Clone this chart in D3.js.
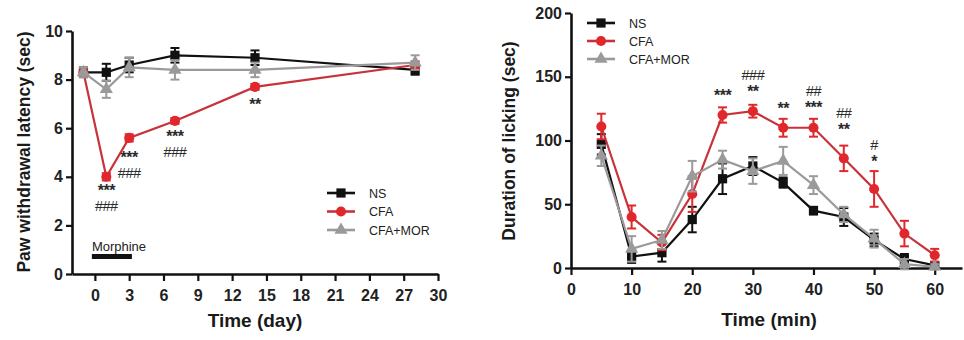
<!DOCTYPE html>
<html><head><meta charset="utf-8">
<script src="https://cdn.jsdelivr.net/npm/d3@7"></script>
<style>
html,body{margin:0;padding:0;background:#fff;}
svg text{font-family:"Liberation Sans",Arial,sans-serif;}
</style></head>
<body><svg id="c" width="964" height="340"></svg>
<script>
// ---------- Left panel data (days) ----------
const daysL = [-1, 1, 3, 7, 14, 28];
const nsL   = [8.3, 8.3, 8.6, 9.0, 8.9, 8.4];
const nsLe  = [0.2, 0.35, 0.3, 0.3, 0.3, 0.2];
const cfaL  = [8.3, 4.0, 5.6, 6.3, 7.7, 8.6];
const cfaLe = [0.15, 0.15, 0.15, 0.12, 0.12, 0.15];
const morL  = [8.3, 7.6, 8.5, 8.4, 8.4, 8.7];
const morLe = [0.2, 0.35, 0.4, 0.4, 0.3, 0.3];
const xTicksL = [0, 3, 6, 9, 12, 15, 18, 21, 24, 27, 30];
const yTicksL = [0, 2, 4, 6, 8, 10];
const annL = [
  {x: 1, lines: ["***", "###"]},
  {x: 3, lines: ["***", "###"]},
  {x: 7, lines: ["***", "###"]},
  {x: 14, lines: ["**"]}
];

// ---------- Right panel data (min) ----------
const minsR = [5, 10, 15, 20, 25, 30, 35, 40, 45, 50, 55, 60];
const nsR   = [97, 9, 12, 38, 70, 80, 67, 45, 40, 22, 7, 2];
const nsRe  = [8, 5, 7, 10, 12, 7, 4, 3, 7, 5, 4, 2];
const cfaR  = [111, 40, 20, 58, 120, 123, 110, 110, 86, 62, 27, 10];
const cfaRe = [10, 9, 6, 14, 6, 5, 7, 7, 10, 14, 10, 5];
const morR  = [88, 15, 22, 72, 85, 76, 84, 65, 42, 23, 3, 1];
const morRe = [8, 10, 7, 12, 7, 10, 11, 7, 6, 7, 4, 2];
const xTicksR = [0, 10, 20, 30, 40, 50, 60];
const yTicksR = [0, 50, 100, 150, 200];
const annR = [
  {x: 25, lines: ["***"]},
  {x: 30, lines: ["###", "**"]},
  {x: 35, lines: ["**"]},
  {x: 40, lines: ["##", "***"]},
  {x: 45, lines: ["##", "**"]},
  {x: 50, lines: ["#", "*"]}
];

const seriesNames = ["NS", "CFA", "CFA+MOR"];
const colors = {NS: "#111111", CFA: "#e0282c", "CFA+MOR": "#9a9a9a"};
const lineColors = {NS: "#111111", CFA: "#c8323a", "CFA+MOR": "#9a9a9a"};
const shapes = {NS: d3.symbolSquare, CFA: d3.symbolCircle, "CFA+MOR": d3.symbolTriangle};
const shapeSize = {NS: 85, CFA: 80, "CFA+MOR": 75};

const svg = d3.select("#c");

function panel(cfg) {
  const g = svg.append("g");
  const x = d3.scaleLinear().domain(cfg.xDomain).range(cfg.xRange);
  const y = d3.scaleLinear().domain(cfg.yDomain).range(cfg.yRange);

  // axes
  const xa = g.append("g").attr("transform", `translate(0,${cfg.yRange[0]})`)
    .call(d3.axisBottom(x).tickValues(cfg.xTicks).tickSize(7).tickSizeOuter(0).tickPadding(5));
  const ya = g.append("g").attr("transform", `translate(${cfg.xRange[0]},0)`)
    .call(d3.axisLeft(y).tickValues(cfg.yTicks).tickSize(6).tickSizeOuter(0).tickPadding(3));
  [xa, ya].forEach(a => {
    a.select(".domain").attr("stroke", "#111").attr("stroke-width", 2.6);
    a.selectAll(".tick line").attr("stroke", "#111").attr("stroke-width", 2.2);
    a.selectAll(".tick text").attr("fill", "#222").attr("font-size", 16).attr("font-weight", "bold")
      .style("font-family", "'Liberation Sans',Arial,sans-serif");
  });
  xa.selectAll(".tick text").attr("dy", "0.95em");

  // axis titles
  g.append("text").attr("x", cfg.xTitlePos[0]).attr("y", cfg.xTitlePos[1])
    .attr("text-anchor", "middle").attr("font-size", 19).attr("font-weight", "bold").attr("fill", "#1a1a1a")
    .text(cfg.xTitle);
  g.append("text").attr("transform", `translate(${cfg.yTitlePos[0]},${cfg.yTitlePos[1]}) rotate(-90)`)
    .attr("text-anchor", "middle").attr("font-size", 17.5).attr("font-weight", "bold").attr("fill", "#1a1a1a")
    .text(cfg.yTitle);

  // series
  const data = {NS: [cfg.ns, cfg.nsE], CFA: [cfg.cfa, cfg.cfaE], "CFA+MOR": [cfg.mor, cfg.morE]};
  const line = d3.line().x(d => x(d.x)).y(d => y(d.v));
  seriesNames.forEach(name => {
    const pts = cfg.xs.map((xv, i) => ({x: xv, v: data[name][0][i], e: data[name][1][i]}));
    const sg = g.append("g");
    sg.append("path").datum(pts).attr("d", line).attr("fill", "none")
      .attr("stroke", lineColors[name]).attr("stroke-width", 2.2);
    const eb = sg.selectAll(".eb").data(pts).join("g");
    eb.append("line").attr("x1", d => x(d.x)).attr("x2", d => x(d.x))
      .attr("y1", d => y(d.v - d.e)).attr("y2", d => y(d.v + d.e))
      .attr("stroke", colors[name]).attr("stroke-width", 2);
    [-1, 1].forEach(s => {
      eb.append("line").attr("x1", d => x(d.x) - 4.5).attr("x2", d => x(d.x) + 4.5)
        .attr("y1", d => y(d.v + s * d.e)).attr("y2", d => y(d.v + s * d.e))
        .attr("stroke", colors[name]).attr("stroke-width", 2);
    });
    sg.selectAll(".pt").data(pts).join("path")
      .attr("transform", d => `translate(${x(d.x)},${y(d.v)})`)
      .attr("d", d3.symbol().type(shapes[name]).size(shapeSize[name]))
      .attr("fill", colors[name]);
  });

  // annotations
  cfg.ann.forEach(a => {
    a.lines.forEach((t, i) => {
      const isStar = t[0] === "*";
      g.append("text").attr("x", x(a.x) + (cfg.annDx || 0))
        .attr("y", cfg.annY(a, i))
        .attr("text-anchor", "middle").attr("font-size", isStar ? 16 : 14.5)
        .attr("font-weight", isStar ? "bold" : "normal")
        .attr("letter-spacing", -0.5)
        .attr("fill", "#2a2a2a").text(t);
    });
  });

  // legend
  seriesNames.forEach((name, i) => {
    const ly = cfg.legend[1] + i * cfg.legendStep;
    const lx = cfg.legend[0];
    g.append("line").attr("x1", lx).attr("x2", lx + 28).attr("y1", ly).attr("y2", ly)
      .attr("stroke", lineColors[name]).attr("stroke-width", 2.6);
    g.append("path").attr("transform", `translate(${lx + 14},${ly})`)
      .attr("d", d3.symbol().type(shapes[name]).size(shapeSize[name])).attr("fill", colors[name]);
    g.append("text").attr("x", lx + 42).attr("y", ly + 4.5).attr("font-size", 12.5)
      .attr("fill", "#222").text(name);
  });
  return {g, x, y};
}

// Left panel
const L = panel({
  xDomain: [-2, 30], xRange: [72, 438], yDomain: [0, 10], yRange: [274, 31],
  xTicks: xTicksL, yTicks: yTicksL,
  xTitle: "Time (day)", xTitlePos: [255, 327],
  yTitle: "Paw withdrawal latency (sec)", yTitlePos: [30, 152],
  xs: daysL, ns: nsL, nsE: nsLe, cfa: cfaL, cfaE: cfaLe, mor: morL, morE: morLe,
  ann: annL,
  annY: (a, i) => {
    const base = {1: 196, 3: 163, 7: 142, 14: 110}[a.x];
    return base + i * 15;
  },
  legend: [327, 193], legendStep: 18.5
});
// Morphine bar
const mb = [0, 3.5];
L.g.append("text").attr("x", L.x(mb[0]) - 3).attr("y", 251).attr("font-size", 13).attr("fill", "#222").text("Morphine");
L.g.append("rect").attr("x", L.x(mb[0]) - 3).attr("y", 254).attr("width", L.x(mb[1]) - L.x(mb[0]))
  .attr("height", 5).attr("fill", "#111");

// Right panel
const R = panel({
  xDomain: [0, 64.5], xRange: [571, 962], yDomain: [0, 200], yRange: [268, 13],
  xTicks: xTicksR, yTicks: yTicksR,
  xTitle: "Time (min)", xTitlePos: [769, 326],
  yTitle: "Duration of licking (sec)", yTitlePos: [515, 141],
  xs: minsR, ns: nsR, nsE: nsRe, cfa: cfaR, cfaE: cfaRe, mor: morR, morE: morRe,
  ann: annR,
  annY: (a, i) => {
    const base = {25: 101, 30: 80, 35: 114, 40: 96, 45: 118, 50: 150}[a.x];
    return base + i * 17;
  },
  legend: [587, 23], legendStep: 18
});
</script></body></html>
